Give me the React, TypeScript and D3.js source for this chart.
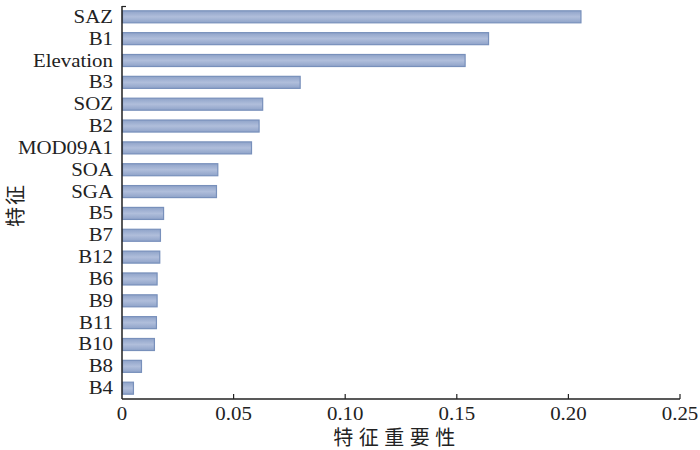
import React from "react";
import * as d3 from "d3";

const features = ["SAZ","B1","Elevation","B3","SOZ","B2","MOD09A1","SOA","SGA","B5","B7","B12","B6","B9","B11","B10","B8","B4"];
const importance = [0.2054,0.164,0.1535,0.0796,0.0628,0.0612,0.0578,0.0427,0.0421,0.0184,0.017,0.0167,0.0155,0.0155,0.0152,0.0143,0.0085,0.0049];
const xTicks = [0, 0.05, 0.1, 0.15, 0.2, 0.25];
const xTickLabels = ["0","0.05","0.10","0.15","0.20","0.25"];
const xTitle = "特征重要性";
const yTitle = "特征";

export default function App() {
  const W = 700, H = 450;
  const left = 122, right = 680, top = 6, bottom = 399;
  const x = d3.scaleLinear().domain([0, 0.25]).range([left, right]);
  const y = d3.scaleBand<string>().domain(features).range([top, bottom]).paddingInner(0.45).paddingOuter(0.22);
  const serif = "'Liberation Serif','Times New Roman',serif";
  const cjk = "'Noto Sans CJK SC',sans-serif";
  return (
    <svg width={W} height={H} style={{ position: "absolute", left: 0, top: 0, background: "#fff" }}>
      <defs>
        <linearGradient id="barg" x1="0" y1="0" x2="0" y2="1">
          <stop offset="0" stopColor="#8fa3c9" />
          <stop offset="0.5" stopColor="#b0bedb" />
          <stop offset="1" stopColor="#8fa3c9" />
        </linearGradient>
      </defs>
      {features.map((f, i) => (
        <rect key={f} x={x(0) + 0.5} y={y(f)!} width={x(importance[i]) - x(0)} height={y.bandwidth()}
          fill="url(#barg)" stroke="#7890bb" strokeWidth={1.2} />
      ))}
      {features.map((f) => (
        <text key={"l" + f} transform={`translate(113,${y(f)! + y.bandwidth() / 2 + 6}) scale(1.16,1)`}
          textAnchor="end" fontFamily={serif} fontSize={18} fill="#222">{f}</text>
      ))}
      <line x1={left} x2={left} y1={top} y2={bottom} stroke="#222" strokeWidth={1.5} />
      <line x1={left} x2={left + 4} y1={top + 0.5} y2={top + 0.5} stroke="#222" strokeWidth={1.2} />
      <line x1={left} x2={right} y1={bottom} y2={bottom} stroke="#222" strokeWidth={1.5} />
      {xTicks.map((t, i) => (
        <g key={"t" + i}>
          {i > 0 && <line x1={x(t)} x2={x(t)} y1={bottom} y2={bottom - 5} stroke="#222" strokeWidth={1.2} />}
          <text transform={`translate(${x(t)},419.5) scale(1.16,1)`} textAnchor="middle"
            fontFamily={serif} fontSize={18} fill="#222">{xTickLabels[i]}</text>
        </g>
      ))}
      <text x={397} y={445} textAnchor="middle" fontFamily={cjk} fontSize={20} letterSpacing={5.5} fill="#222">{xTitle}</text>
      <text transform="translate(23,205) rotate(-90)" textAnchor="middle" fontFamily={cjk} fontSize={20} letterSpacing={2} fill="#222">{yTitle}</text>
    </svg>
  );
}
